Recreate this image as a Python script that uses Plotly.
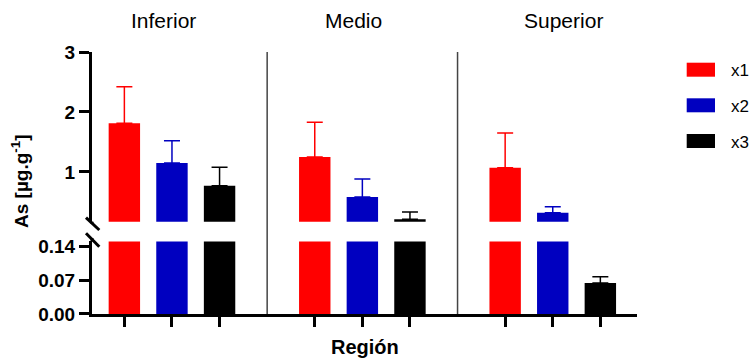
import math
import plotly.graph_objects as go

# ---- data ----
regions = ["Inferior", "Medio", "Superior"]
series_names = ["x1", "x2", "x3"]
x1_mean = [1.81, 1.25, 1.07]
x1_sd = [0.61, 0.58, 0.58]
x2_mean = [1.15, 0.58, 0.32]
x2_sd = [0.37, 0.30, 0.10]
x3_mean = [0.77, 0.21, 0.064]
x3_sd = [0.31, 0.12, 0.013]
lower_ticks = [0.0, 0.07, 0.14]
lower_ticktext = ["0.00", "0.07", "0.14"]
upper_ticks = [1, 2, 3]

colors = ["#FF0000", "#0000C0", "#000000"]
means = [x1_mean, x2_mean, x3_mean]
sds = [x1_sd, x2_sd, x3_sd]

FONT = "Liberation Sans, Arial, sans-serif"

W, H = 753, 358
ML, MR, MT, MB = 92, 116, 52, 44
PW = W - ML - MR
PH = H - MT - MB


def px_to_paper_x(px):
    return (px - ML) / PW


def px_to_paper_y(py):
    return (H - MB - py) / PH


lower_dom = [0, 0.277]
upper_dom = [0.3523, 1]

fig = go.Figure()

group_step = 4
for s, name in enumerate(series_names):
    xs = [g * group_step + s for g in range(len(regions))]
    for yax in ["y", "y2"]:
        fig.add_trace(go.Bar(
            x=xs, y=means[s], yaxis=yax, xaxis="x",
            name=name, showlegend=False,
            width=0.66,
            marker=dict(color=colors[s], line=dict(width=0)),
            error_y=dict(type="data", symmetric=False, array=sds[s],
                         arrayminus=[0] * len(sds[s]),
                         color=colors[s], thickness=1.5, width=8),
        ))

all_x = [g * group_step + s for g in range(len(regions)) for s in range(3)]

axis_common = dict(showline=True, linewidth=3, linecolor="black",
                   ticks="outside", ticklen=10, tickwidth=3, tickcolor="black",
                   showgrid=False, zeroline=False,
                   tickfont=dict(family=FONT, size=19, color="black", weight="bold"))

fig.update_layout(
    width=W, height=H,
    margin=dict(l=ML, r=MR, t=MT, b=MB),
    plot_bgcolor="white", paper_bgcolor="white",
    barmode="overlay",
    showlegend=False,
    xaxis=dict(range=[-0.68, 10.77], tickvals=all_x, showticklabels=False,
               anchor="y", **axis_common),
    yaxis=dict(domain=lower_dom, range=[0, 0.15], tickvals=lower_ticks,
               ticktext=lower_ticktext, anchor="x", **axis_common),
    yaxis2=dict(domain=upper_dom, range=[0.17, 3], tickvals=upper_ticks,
                ticktext=[str(t) for t in upper_ticks], anchor="x", **axis_common),
)

shapes = []
# group separators
for g in range(len(regions) - 1):
    xs = g * group_step + 3
    shapes.append(dict(type="line", xref="x", yref="paper", x0=xs, x1=xs,
                       y0=0, y1=1, line=dict(color="#444444", width=1.5), layer="below"))
# axis break marks
for (x0, y0, x1, y1) in [(86, 217.7, 99.3, 230), (86, 233.3, 99.3, 246.7)]:
    shapes.append(dict(type="line", xref="paper", yref="paper",
                       x0=px_to_paper_x(x0), y0=px_to_paper_y(y0),
                       x1=px_to_paper_x(x1), y1=px_to_paper_y(y1),
                       line=dict(color="black", width=3)))
# small axis extensions towards the break
shapes.append(dict(type="line", xref="paper", yref="paper", x0=0, x1=0,
                   y0=upper_dom[0], y1=px_to_paper_y(224), line=dict(color="black", width=3)))
shapes.append(dict(type="line", xref="paper", yref="paper", x0=0, x1=0,
                   y0=lower_dom[1], y1=px_to_paper_y(238), line=dict(color="black", width=3)))

# manual legend
leg_y = [69.7, 105.3, 141.0]
annotations = []
for i, name in enumerate(series_names):
    shapes.append(dict(type="rect", xref="paper", yref="paper",
                       x0=px_to_paper_x(686.7), x1=px_to_paper_x(715),
                       y0=px_to_paper_y(leg_y[i] - 7), y1=px_to_paper_y(leg_y[i] + 7),
                       fillcolor=colors[i], line=dict(width=0)))
    annotations.append(dict(xref="paper", yref="paper", x=px_to_paper_x(729),
                            y=px_to_paper_y(leg_y[i] + 1), xanchor="left", yanchor="middle",
                            text=name, showarrow=False,
                            font=dict(family=FONT, size=17, color="black")))

# group labels (title positions as in reference)
label_px = [163.5, 353.5, 563]
for g, r in enumerate(regions):
    annotations.append(dict(xref="paper", yref="paper", x=px_to_paper_x(label_px[g]),
                            y=px_to_paper_y(20.5), xanchor="center", yanchor="middle",
                            text=r, showarrow=False,
                            font=dict(family=FONT, size=21, color="black")))

# axis titles
annotations.append(dict(xref="paper", yref="paper", x=px_to_paper_x(20),
                        y=px_to_paper_y(181), xanchor="center", yanchor="middle",
                        text="As [µg.g<sup>-1</sup>]", textangle=-90, showarrow=False,
                        font=dict(family=FONT, size=19, color="black", weight="bold")))
annotations.append(dict(xref="paper", yref="paper", x=0.5,
                        y=px_to_paper_y(347), xanchor="center", yanchor="middle",
                        text="Región", showarrow=False,
                        font=dict(family=FONT, size=20, color="black", weight="bold")))

fig.update_layout(shapes=shapes, annotations=annotations)

fig.write_html("out.html")
